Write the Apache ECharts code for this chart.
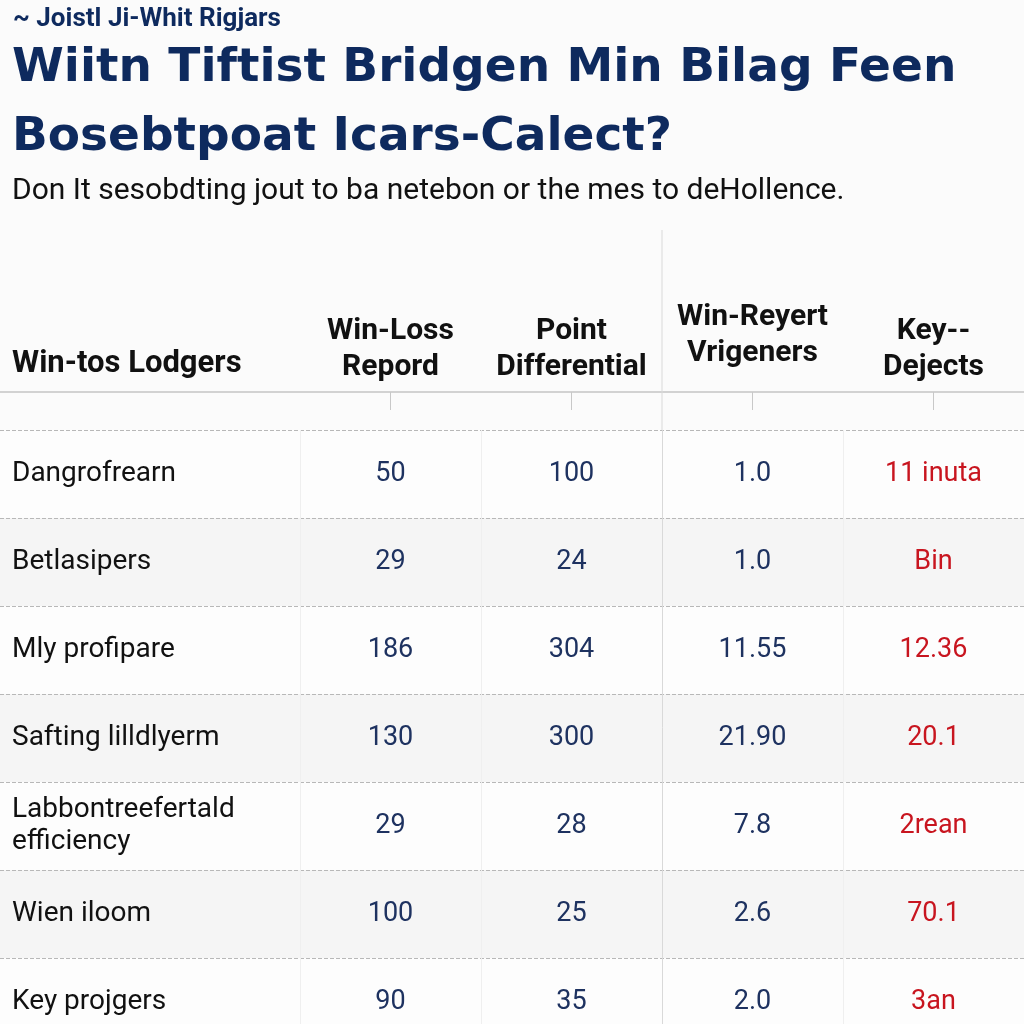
<!DOCTYPE html>
<html>
<head>
<meta charset="utf-8">
<script src="https://cdn.jsdelivr.net/npm/echarts@6/dist/echarts.min.js"></script>
<style>
  html, body { margin: 0; padding: 0; background: #fbfbfb; }
  #chart { width: 1024px; height: 1024px; }
</style>
</head>
<body>
<div id="chart"></div>
<script>
// table content
const columns = ['Win-Loss\nRepord', 'Point\nDifferential', 'Win-Reyert\nVrigeners', 'Key--\nDejects'];
const rows = ['Dangrofrearn', 'Betlasipers', 'Mly profipare', 'Safting lilldlyerm', 'Labbontreefertald\nefficiency', 'Wien iloom', 'Key projgers'];
const winLoss = [50, 29, 186, 130, 29, 100, 90];
const pointDiff = [100, 24, 304, 300, 28, 25, 35];
const winReyert = ['1.0', '1.0', '11.55', '21.90', '7.8', '2.6', '2.0'];
const keyDejects = ['11 inuta', 'Bin', '12.36', '20.1', '2rean', '70.1', '3an'];

const NAVY = '#0e2a5e';
const NUM = '#1e3260';
const RED = '#c8151f';
const FONT = 'Roboto, "Liberation Sans", sans-serif';

const chart = echarts.init(document.getElementById('chart'));

function cellSeries(colIdx, values, color) {
  return {
    type: 'scatter',
    symbolSize: 0,
    silent: true,
    itemStyle: { opacity: 1 },
    data: values.map((v, i) => [columns[colIdx], rows[i], v]),
    label: {
      show: true,
      position: 'inside',
      formatter: p => p.value[2],
      color: color,
      fontSize: 27,
      fontFamily: FONT
    }
  };
}

const rowSplit = { show: true, lineStyle: { color: '#b8b8b8', type: 'dashed', width: 1 } };
const rowArea = { show: true, areaStyle: { color: ['#fdfdfd', '#f5f5f5'] } };

const option = {
  backgroundColor: '#fbfbfb',
  title: [
    {
      text: '~ Joistl Ji-Whit Rigjars',
      left: 13, top: 6, padding: 0,
      textStyle: { fontSize: 26, fontWeight: 'bold', color: NAVY, fontFamily: FONT }
    },
    {
      text: 'Wiitn Tiftist Bridgen Min Bilag Feen\nBosebtpoat Icars-Calect?',
      left: 12, top: 34, padding: 0,
      textStyle: { fontSize: 47, lineHeight: 69, fontWeight: 'bold', color: NAVY, fontFamily: '"DejaVu Sans", sans-serif' }
    },
    {
      text: 'Don It sesobdting jout to ba netebon or the mes to deHollence.',
      left: 12, top: 176, padding: 0,
      textStyle: { fontSize: 30, fontWeight: 'normal', color: '#111', fontFamily: FONT }
    },
    {
      text: 'Win-tos Lodgers',
      left: 12, top: 349, padding: 0,
      textStyle: { fontSize: 31, fontWeight: 'bold', color: '#111', fontFamily: FONT }
    }
  ],
  grid: [
    { left: 300, right: 0, top: 430, height: 616, outerBoundsMode: 'none' },
    { left: 0, width: 300, top: 430, height: 616, outerBoundsMode: 'none' }
  ],
  xAxis: [
    {
      type: 'category',
      gridIndex: 0,
      position: 'top',
      offset: 38,
      data: columns.map((c, i) => i === 2
        ? { value: c, textStyle: { padding: [0, 0, 14, 0] } }
        : c),
      axisLine: { lineStyle: { color: '#d2d2d2', width: 2 } },
      axisTick: { show: true, inside: true, alignWithLabel: true, length: 18, lineStyle: { color: '#c8c8c8' } },
      axisLabel: {
        fontSize: 30, fontWeight: 'bold', color: '#111', lineHeight: 36,
        margin: 7, fontFamily: FONT, interval: 0
      },
      splitLine: {
        show: true,
        lineStyle: { color: ['#efefef', '#efefef', '#d9d9d9', '#efefef', '#efefef'], width: 1 }
      }
    },
    {
      type: 'category',
      gridIndex: 1,
      position: 'top',
      offset: 38,
      data: [''],
      axisLine: { lineStyle: { color: '#d2d2d2', width: 2 } },
      axisTick: { show: false },
      axisLabel: { show: false },
      splitLine: { show: false }
    }
  ],
  yAxis: [
    {
      type: 'category',
      gridIndex: 0,
      inverse: true,
      data: rows,
      axisLine: { show: false },
      axisTick: { show: false },
      axisLabel: {
        align: 'left', margin: 288, fontSize: 28, lineHeight: 32,
        color: '#111', fontFamily: FONT, interval: 0
      },
      splitLine: rowSplit,
      splitArea: rowArea
    },
    {
      type: 'category',
      gridIndex: 1,
      inverse: true,
      data: rows,
      axisLine: { show: false },
      axisTick: { show: false },
      axisLabel: { show: false },
      splitLine: rowSplit,
      splitArea: rowArea
    }
  ],
  graphic: [
    {
      type: 'line',
      shape: { x1: 662, y1: 230, x2: 662, y2: 430 },
      style: { stroke: '#d9d9d9', lineWidth: 1 },
      silent: true,
      z: 10
    }
  ],
  series: [
    cellSeries(0, winLoss, NUM),
    cellSeries(1, pointDiff, NUM),
    cellSeries(2, winReyert, NUM),
    cellSeries(3, keyDejects, RED)
  ]
};

chart.setOption(option);
window.addEventListener('resize', () => chart.resize());
</script>
</body>
</html>
